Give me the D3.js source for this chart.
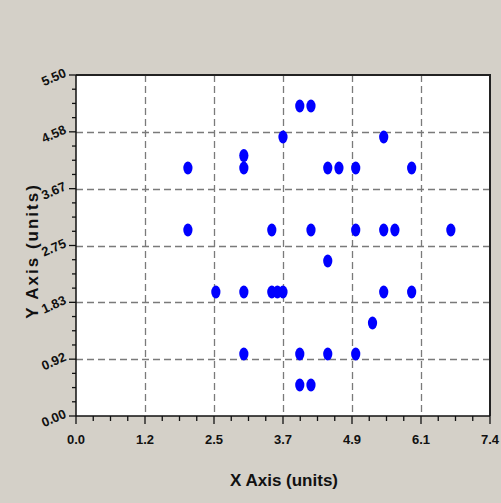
<!DOCTYPE html>
<html>
<head>
<meta charset="utf-8">
<script src="https://cdn.jsdelivr.net/npm/d3@7"></script>
<style>
  html, body { margin: 0; padding: 0; background: #d4d0c8; }
  svg { display: block; }
  .tick-label { font-family: "Liberation Sans Narrow", "Liberation Sans", Arial, sans-serif; font-weight: bold; font-size: 13px; fill: #111; }
  .axis-title { font-family: "Liberation Sans Narrow", "Liberation Sans", Arial, sans-serif; font-weight: bold; font-size: 17px; fill: #111; }
</style>
</head>
<body>
<div id="chart"></div>
<script>
const w = 501;
const h = 503;

// data
const xValues = [2.0, 2.0, 2.5, 3.0, 3.0, 3.0, 3.0, 3.5, 3.5, 3.6, 3.7, 3.7, 4.0, 4.2, 4.0, 4.0, 4.2,
                 4.2, 4.5, 4.5, 4.7, 4.5, 5.0, 5.0, 5.0, 5.3, 5.5, 5.5, 5.5, 5.7, 6.0, 6.0, 6.7];
const yValues = [4.0, 3.0, 2.0, 4.2, 4.0, 2.0, 1.0, 3.0, 2.0, 2.0, 2.0, 4.5, 5.0, 5.0, 1.0, 0.5, 0.5,
                 3.0, 2.5, 4.0, 4.0, 1.0, 4.0, 3.0, 1.0, 1.5, 4.5, 3.0, 2.0, 3.0, 4.0, 2.0, 3.0];
const xTickLabels = ["0.0", "1.2", "2.5", "3.7", "4.9", "6.1", "7.4"];
const yTickLabels = ["0.00", "0.92", "1.83", "2.75", "3.67", "4.58", "5.50"];
const xMax = 7.4;
const yMax = 5.5;

const margin = {left: 76, right: 11, top: 75, bottom: 87};

const svg = d3.select("#chart").append("svg").attr("width", w).attr("height", h);

const x = d3.scaleLinear().domain([0, xMax]).range([margin.left, w - margin.right]);
const y = d3.scaleLinear().domain([0, yMax]).range([h - margin.bottom, margin.top]);

const nMajor = xTickLabels.length - 1;
const xMajor = d3.range(nMajor + 1).map(i => i * xMax / nMajor);
const yMajor = d3.range(nMajor + 1).map(i => i * yMax / nMajor);
const xMinor = d3.range(nMajor * 4 + 1).map(i => i * xMax / (nMajor * 4)).filter((d, i) => i % 4);
const yMinor = d3.range(nMajor * 4 + 1).map(i => i * yMax / (nMajor * 4)).filter((d, i) => i % 4);

// plot area
svg.append("rect")
    .attr("x", x(0)).attr("y", y(yMax))
    .attr("width", x(xMax) - x(0)).attr("height", y(0) - y(yMax))
    .style("fill", "white");

// grid
const grid = svg.append("g").style("stroke", "#7a7a7a").style("stroke-width", 1.3).style("stroke-dasharray", "7,4");
grid.selectAll(".gx").data(xMajor.slice(1, -1)).enter().append("line")
    .attr("x1", d => Math.round(x(d)) + 0.5).attr("x2", d => Math.round(x(d)) + 0.5)
    .attr("y1", y(yMax)).attr("y2", y(0));
grid.selectAll(".gy").data(yMajor.slice(1, -1)).enter().append("line")
    .attr("y1", d => Math.round(y(d)) + 0.5).attr("y2", d => Math.round(y(d)) + 0.5)
    .attr("x1", x(0)).attr("x2", x(xMax));

// frame: top and right darker
svg.append("line").attr("x1", x(0)).attr("x2", x(xMax) + 1).attr("y1", y(yMax)).attr("y2", y(yMax))
    .style("stroke", "#222").style("stroke-width", 2);
svg.append("line").attr("x1", x(xMax)).attr("x2", x(xMax)).attr("y1", y(yMax)).attr("y2", y(0))
    .style("stroke", "#222").style("stroke-width", 2);

// x axis
const xAxis = svg.append("g").attr("transform", "translate(0," + y(0) + ")");
xAxis.append("line").attr("x1", x(0)).attr("x2", x(xMax)).style("stroke", "#111").style("stroke-width", 1.5);
xAxis.selectAll(".xmaj").data(xMajor).enter().append("line")
    .attr("x1", d => x(d)).attr("x2", d => x(d)).attr("y1", 0).attr("y2", 8)
    .style("stroke", "#111").style("stroke-width", 1.3);
xAxis.selectAll(".xmin").data(xMinor).enter().append("line")
    .attr("x1", d => x(d)).attr("x2", d => x(d)).attr("y1", 0).attr("y2", 5)
    .style("stroke", "#111").style("stroke-width", 1.3);
xAxis.selectAll(".tick-label").data(xMajor).enter().append("text")
    .attr("class", "tick-label")
    .attr("x", d => x(d)).attr("y", 28)
    .attr("text-anchor", "middle")
    .text((d, i) => xTickLabels[i]);

// y axis
const yAxis = svg.append("g").attr("transform", "translate(" + x(0) + ",0)");
yAxis.append("line").attr("y1", y(0)).attr("y2", y(yMax)).style("stroke", "#111").style("stroke-width", 1.5);
yAxis.selectAll(".ymaj").data(yMajor).enter().append("line")
    .attr("y1", d => y(d)).attr("y2", d => y(d)).attr("x1", 0).attr("x2", -7)
    .style("stroke", "#111").style("stroke-width", 1.3);
yAxis.selectAll(".ymin").data(yMinor).enter().append("line")
    .attr("y1", d => y(d)).attr("y2", d => y(d)).attr("x1", 0).attr("x2", -4)
    .style("stroke", "#111").style("stroke-width", 1.3);
yAxis.selectAll(".tick-label").data(yMajor).enter().append("text")
    .attr("class", "tick-label")
    .attr("transform", d => "translate(-9," + (y(d) + 1) + ") rotate(-24)")
    .attr("text-anchor", "end")
    .text((d, i) => yTickLabels[i]);

// axis titles
svg.append("text").attr("class", "axis-title")
    .attr("x", 284).attr("y", 486)
    .attr("text-anchor", "middle")
    .text("X Axis (units)");
svg.append("text").attr("class", "axis-title")
    .attr("transform", "translate(38,251) rotate(-90)")
    .attr("text-anchor", "middle")
    .style("letter-spacing", "2px")
    .text("Y Axis (units)");

// points
svg.append("g").selectAll("ellipse")
    .data(xValues.map((d, i) => [d, yValues[i]]))
    .enter().append("ellipse")
    .attr("cx", d => x(d[0]))
    .attr("cy", d => y(d[1]))
    .attr("rx", 4.6)
    .attr("ry", 6.5)
    .style("fill", "#0000ff");
</script>
</body>
</html>
